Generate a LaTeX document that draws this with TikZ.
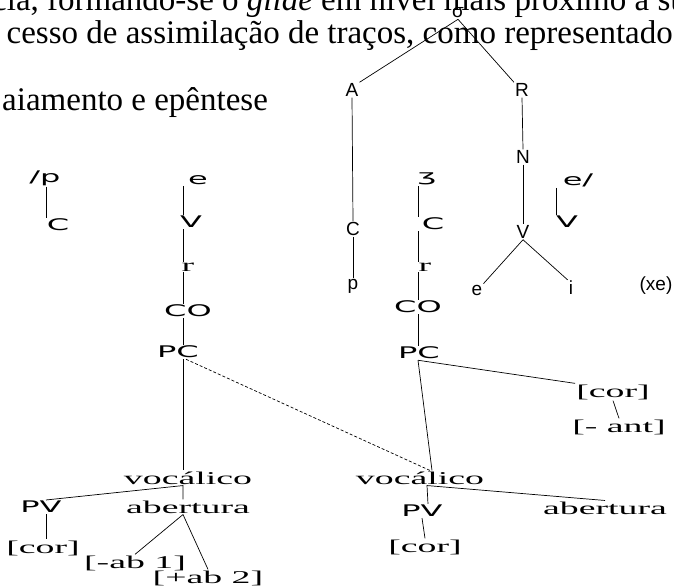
\documentclass[tikz,border=0pt]{standalone}
\usepackage{fontspec}
\setmainfont{Liberation Serif}
\newfontfamily\knotensans{Liberation Sans}
\newfontfamily\breitsans[FakeStretch=2.0]{DejaVu Sans}
\newfontfamily\breitserif[FakeStretch=2.1]{Liberation Serif}

\tikzset{
  txt/.style={font=\fontsize{33}{36}\selectfont, inner sep=0pt},
  ks/.style={font=\knotensans\fontsize{19}{19}\selectfont, inner sep=1pt},
  bs/.style={font=\breitsans\fontsize{16}{16}\selectfont, inner sep=1pt},
  ms/.style={font=\breitserif\fontsize{18}{18}\selectfont, inner sep=1pt},
  ast/.style={line width=0.7pt},
  spreiz/.style={line width=0.7pt, densely dashed}
}

\begin{document}
\begin{tikzpicture}[x=1pt,y=-1pt]
\useasboundingbox (0,0) rectangle (674,587);
% Fliesstext oben:
\node[txt,anchor=base west] (z1) at (-8,10) {cia, formando-se o \textit{glide} em nível mais próximo à su};
\node[txt,anchor=base east] (z2) at (673,43) {cesso de assimilação de traços, como representado};
\node[txt,anchor=base west] (z3) at (2,110) {aiamento e epêntese};

% Silbe rechts oben:
\node[ks] (sig) at (458,13) {σ};
\node[ks] (A) at (352,90) {A};
\node[ks] (R) at (522,90) {R};
\node[ks] (Ca) at (353,229) {C};
\node[ks] (pa) at (353,286) {p};
\node[ks] (N) at (523,157) {N};
\node[ks] (Vn) at (523,232) {V};
\node[ks] (en) at (477,290) {e};
\node[ks] (in) at (571,288) {i};
\node[ks] (xe) at (656,286) {(xe)};
\draw[ast] (sig.south) -- (A.north east); % zum Onset
\draw[ast] (sig.south) -- (R.north west); % zum Reim
\draw[ast] (A.south) -- (Ca.north);
\draw[ast] (Ca.south) -- (pa.north);
\draw[ast] (R.south) -- (N.north);
\draw[ast] (N.south) -- (Vn.north);
\draw[ast] (Vn.south) -- (en.north east);
\draw[ast] (Vn.south) -- (in.north west);

% Saeulen:
\coordinate (s0) at (46,0);
\coordinate (s1) at (183,0);
\coordinate (s2) at (418,0);
\coordinate (s3) at (556,0);

% linke Seite:
\node[bs] (sp) at (45,178) {/p};
\node[bs] (C1) at (58,225) {C};
\node[bs] (e1) at (198,180) {e};
\node[bs] (V1) at (191,222) {V};
\node[ms] (r1) at (188,267) {r};
\node[bs] (CO1) at (188,311) {CO};
\node[bs] (PC1) at (178,352) {PC};
\node[ms] (vok1) at (188,478) {vocálico};
\node[bs] (PV1) at (41,507) {PV};
\node[ms] (ab1) at (188,507) {abertura};
\node[ms] (cor1) at (43,548) {[cor]};
\node[ms] (mab) at (135,563) {[-ab 1]};
\node[ms] (pab) at (208,578) {[+ab 2]};
\draw[ast] (s0 |- sp.south) -- (s0 |- C1.north);
\draw[ast] (s1 |- e1.south) -- (s1 |- V1.north);
\draw[ast] (s1 |- V1.south) -- (s1 |- r1.north);
\draw[ast] (s1 |- r1.south) -- (s1 |- CO1.north);
\draw[ast] (s1 |- CO1.south) -- (s1 |- PC1.north);
\draw[ast] (s1 |- PC1.south) -- (s1 |- vok1.north);
\draw[ast] (s0 |- PV1.north) -- (s1 |- vok1.south) -- (s1 |- ab1.north);
\draw[ast] (s0 |- PV1.south) -- (s0 |- cor1.north);
\draw[ast] (mab.north) -- (s1 |- ab1.south) -- (pab.north);

% rechte Seite:
\node[bs] (zh) at (427,179) {ʒ};
\node[bs] (C2) at (433,224) {C};
\node[ms] (r2) at (425,267) {r};
\node[bs] (CO2) at (418,307) {CO};
\node[bs] (PC2) at (419,353) {PC};
\node[ms] (corr) at (613,392) {[cor]};
\node[ms] (ant) at (619,427) {[- ant]};
\node[ms] (vok2) at (420,478) {vocálico};
\node[bs] (PV2) at (422,511) {PV};
\node[ms] (ab2) at (605,508) {abertura};
\node[ms] (cor2) at (425,547) {[cor]};
\node[bs] (esl) at (578,180) {e/};
\node[bs] (V3) at (567,222) {V};
\draw[ast] (s2 |- zh.south) -- (s2 |- C2.north);
\draw[ast] (s2 |- C2.south) -- (s2 |- r2.north);
\draw[ast] (s2 |- r2.south) -- (s2 |- CO2.north);
\draw[ast] (s2 |- CO2.south) -- (s2 |- PC2.north);
\draw[ast] (s2 |- PC2.south) -- (corr.north west);
\draw[ast] (s2 |- PC2.south) -- ([xshift=12pt]vok2.north);
\draw[ast] (corr.south) -- (ant.north);
\draw[ast] ([xshift=6pt]PV2.north) -- ([xshift=7pt]vok2.south) -- (ab2.north);
\draw[ast] (PV2.south) -- (cor2.north);
\draw[ast] (s3 |- esl.south) -- (s3 |- V3.north);
% Spreizung:
\draw[spreiz] ([xshift=8pt]PC1.south) -- ([xshift=10pt]vok2.north);
\end{tikzpicture}
\end{document}
